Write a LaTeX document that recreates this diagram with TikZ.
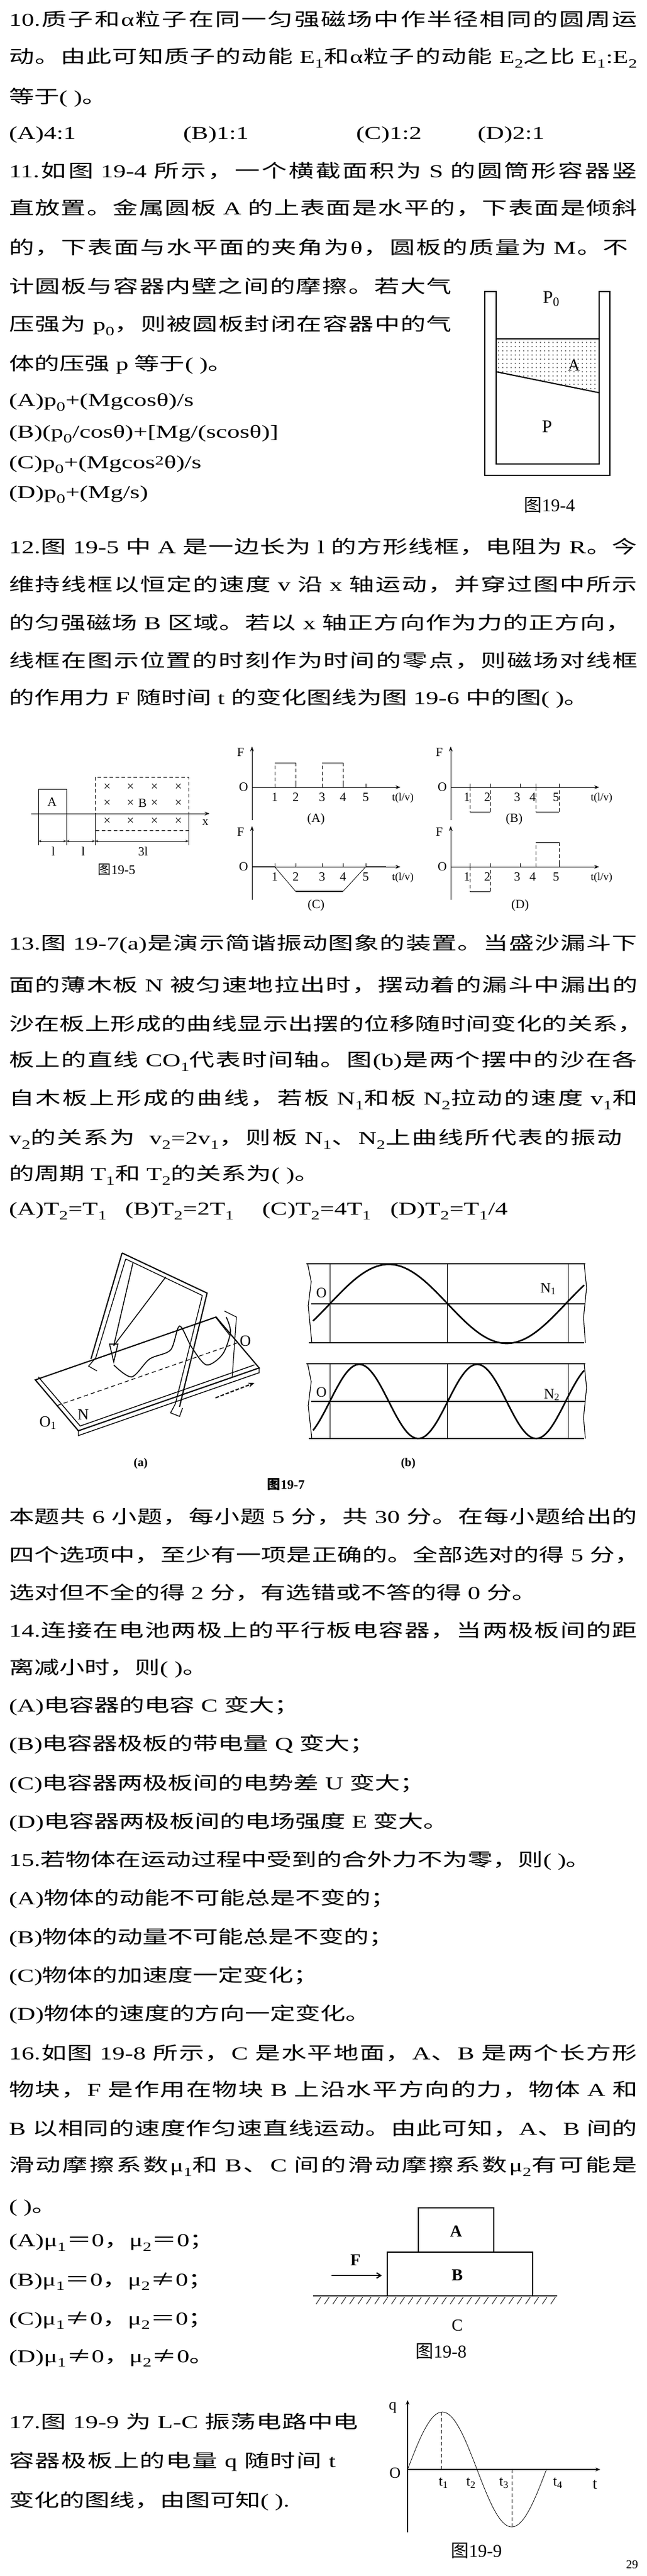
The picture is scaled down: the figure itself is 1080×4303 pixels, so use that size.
\documentclass[tikz,border=0pt]{standalone}
\usepackage{fontspec}
\usepackage{graphicx}
\setmainfont{Liberation Serif}
\newfontfamily\cjkf{Noto Sans CJK SC}
\usetikzlibrary{arrows.meta,patterns.meta}
\XeTeXinterchartokenstate=1
\newXeTeXintercharclass\cjkcls
\newcount\cc
\def\setrange#1#2{\cc=#1\relax\loop\XeTeXcharclass\cc=\cjkcls\advance\cc by 1\relax\ifnum\cc<#2\repeat}
\setrange{"3000}{"3040}
\setrange{"4E00}{"A000}
\setrange{"FF00}{"FFF0}
\XeTeXcharclass"2260=\cjkcls
\XeTeXinterchartoks 0 \cjkcls = {\hskip0pt plus 20pt\cjkf}
\XeTeXinterchartoks 4095 \cjkcls = {\cjkf}
\XeTeXinterchartoks \cjkcls 0 = {\rmfamily\hskip0pt plus 20pt}
\XeTeXinterchartoks \cjkcls 4095 = {\rmfamily}
\XeTeXinterchartoks \cjkcls \cjkcls = {\hskip0pt plus 20pt}
\newcommand\bs[1]{\textsubscript{#1}}
\newcommand\Ln[1]{\scalebox{1}[0.72]{\fontsize{42}{50}\selectfont #1}}
\newcommand\Fl[2]{\scalebox{1}[0.72]{\hbox to #1{\fontsize{42}{50}\selectfont\spaceskip=11pt plus 8pt #2}}}
\begin{document}
\begin{tikzpicture}[x=1pt,y=-1pt,
  txt/.style={anchor=west,inner sep=0pt,outer sep=0pt},
  ft/.style={inner sep=0pt,font=\fontsize{21}{23}\selectfont},
  capt/.style={inner sep=0pt,font=\fontsize{27}{29}\selectfont},
  ar/.style={-{Stealth[length=8pt,width=6pt]}},
  dsh/.style={dash pattern=on 6pt off 4pt},
  crv/.style={line width=2.6pt}]
\useasboundingbox (0,0) rectangle (1080,4303);
\fill[white] (0,0) rectangle (1080,4303);
% ---------- Q10
\node[txt] (l1) at (15,32) {\Fl{1050pt}{10.质子和α粒子在同一匀强磁场中作半径相同的圆周运}};
\node[txt] (l2) at (15,97) {\Fl{1050pt}{动。由此可知质子的动能 E\bs{1}和α粒子的动能 E\bs{2}之比 E\bs{1}:E\bs{2}}};
\node[txt] (l3) at (15,163) {\Ln{等于( )。}};
\node[txt] (o1) at (15,225) {\Ln{(A)4:1}};
\node[txt] (o2) at (306,225) {\Ln{(B)1:1}};
\node[txt] (o3) at (595,225) {\Ln{(C)1:2}};
\node[txt] (o4) at (798,225) {\Ln{(D)2:1}};
% ---------- Q11
\node[txt] (l5) at (15,285) {\Fl{1050pt}{11.如图 19-4 所示，一个横截面积为 S 的圆筒形容器竖}};
\node[txt] (l6) at (15,347) {\Fl{1050pt}{直放置。金属圆板 A 的上表面是水平的，下表面是倾斜}};
\node[txt] (l7) at (15,413) {\Fl{1035pt}{的，下表面与水平面的夹角为θ，圆板的质量为 M。不}};
\node[txt] (l8) at (15,478) {\Fl{740pt}{计圆板与容器内壁之间的摩擦。若大气}};
\node[txt] (l9) at (15,544) {\Fl{740pt}{压强为 p\bs{0}，则被圆板封闭在容器中的气}};
\node[txt] (l10) at (15,609) {\Ln{体的压强 p 等于( )。}};
\node[txt] (l11) at (15,672) {\Ln{(A)p\bs{0}+(Mgcosθ)/s}};
\node[txt] (l12) at (15,725) {\Ln{(B)(p\bs{0}/cosθ)+[Mg/(scosθ)]}};
\node[txt] (l13) at (15,776) {\Ln{(C)p\bs{0}+(Mgcos\textsuperscript{2}θ)/s}};
\node[txt] (l14) at (15,826) {\Ln{(D)p\bs{0}+(Mg/s)}};
% fig 19-4
\fill[pattern={Dots[distance=7pt,radius=0.9pt]}] (829,566) -- (1001,566) -- (1001,656) -- (829,621) -- cycle;
\draw[line width=2.2pt] (810,487) -- (810,794) -- (1019,794) -- (1019,487) -- (1001,487) -- (1001,775) -- (829,775) -- (829,487) -- cycle;
\draw[line width=2pt] (829,566) -- (1001,566);
\draw[line width=2pt] (829,621) -- (1001,656);
\node[ft,font=\fontsize{30}{32}\selectfont] (p0) at (921,499) {P\bs{0}};
\node[ft,font=\fontsize{28}{30}\selectfont] (pa) at (959,610) {A};
\node[ft,font=\fontsize{30}{32}\selectfont] (pp) at (914,713) {P};
\node[capt,font=\fontsize{30}{32}\selectfont] (c4) at (918,844) {图19-4};
% ---------- Q12
\node[txt] (m1) at (15,913) {\Fl{1050pt}{12.图 19-5 中 A 是一边长为 l 的方形线框，电阻为 R。今}};
\node[txt] (m2) at (15,976) {\Fl{1050pt}{维持线框以恒定的速度 v 沿 x 轴运动，并穿过图中所示}};
\node[txt] (m3) at (15,1040) {\Fl{1040pt}{的匀强磁场 B 区域。若以 x 轴正方向作为力的正方向，}};
\node[txt] (m4) at (15,1103) {\Fl{1050pt}{线框在图示位置的时刻作为时间的零点，则磁场对线框}};
\node[txt] (m5) at (15,1167) {\Ln{的作用力 F 随时间 t 的变化图线为图 19-6 中的图( )。}};
% fig 19-5
\draw[thick,ar] (52,1359) -- (350,1359);
\draw[thick] (64,1359) -- (64,1318) -- (111,1318) -- (111,1359);
\node[ft] (fa) at (87,1340) {A};
\draw[thick,dsh] (159,1298) rectangle (315,1387);
\foreach \xx in {179,218,258,298}{\foreach \yy in {1315,1342,1372}{\node[ft] (x\xx-\yy) at (\xx,\yy) {×};}}
\node[ft,fill=white,inner sep=1pt] (fb) at (238,1342) {B};
\node[ft] (fx) at (343,1374) {x};
\foreach \xx in {64,111,159,315}{\draw (\xx,1359) -- (\xx,1412);}
\draw[{Stealth[length=5pt]}-{Stealth[length=5pt]}] (64,1405) -- (111,1405);
\draw[{Stealth[length=5pt]}-{Stealth[length=5pt]}] (111,1405) -- (159,1405);
\draw[{Stealth[length=5pt]}-{Stealth[length=5pt]}] (159,1405) -- (315,1405);
\node[ft] (d1) at (89,1422) {l};
\node[ft] (d2) at (139,1422) {l};
\node[ft] (d3) at (239,1422) {3l};
\node[ft,font=\fontsize{22}{24}\selectfont] (c5) at (195,1453) {图19-5};
% fig 19-6 axes
\foreach \nm/\ox/\oy in {a/421/1315,b/753/1315,c/421/1448,d/753/1448}{
  \draw[thick,ar] (\ox,\oy+55) -- (\ox,\oy-68);
  \draw[thick,ar] (\ox,\oy) -- (\ox+248,\oy);
  \node[ft] (F\nm) at (\ox-19,\oy-58) {F};
  \node[ft] (O\nm) at (\ox-14,\oy) {O};
  \node[ft,font=\fontsize{18}{20}\selectfont] (t\nm) at (\ox+252,\oy+18) {t(l/v)};
}
\foreach \i/\xx in {1/459,2/494,3/538,4/573,5/611}{
  \draw (\xx,1315) -- (\xx,1309); \draw (\xx,1448) -- (\xx,1442);
  \node[ft] (na\i) at (\xx,1332) {\i};
  \node[ft] (nc\i) at (\xx,1465) {\i};}
\foreach \i/\xx in {1/785,2/819,3/869,4/895,5/934}{
  \draw (\xx,1315) -- (\xx,1309); \draw (\xx,1448) -- (\xx,1442);
  \node[ft] (nb\i) at (\xx-5,1332) {\i};
  \node[ft] (nd\i) at (\xx-5,1465) {\i};}
\node[ft] (la) at (528,1368) {(A)};
\node[ft] (lb) at (859,1368) {(B)};
\node[ft] (lc) at (528,1512) {(C)};
\node[ft] (ld) at (869,1512) {(D)};
% A pulses
\draw[dsh] (459,1315) -- (459,1274) (494,1274) -- (494,1315) (538,1315) -- (538,1274) (573,1274) -- (573,1315);
\draw[thick] (459,1274) -- (494,1274) (538,1274) -- (573,1274);
% B pulses
\draw[dsh] (785,1315) -- (785,1356) (819,1356) -- (819,1315) (895,1315) -- (895,1356) (934,1356) -- (934,1315);
\draw[thick] (785,1356) -- (819,1356) (895,1356) -- (934,1356);
% C
\draw[line width=2.5pt] (421,1448) -- (459,1448) (494,1489) -- (573,1489) (611,1448) -- (645,1448);
\draw[thick] (459,1448) -- (494,1489) (573,1489) -- (611,1448);
% D
\draw[dsh] (785,1448) -- (785,1489) (819,1489) -- (819,1448) (895,1448) -- (895,1407) (934,1407) -- (934,1448);
\draw[thick] (785,1489) -- (819,1489) (895,1407) -- (934,1407);
% ---------- Q13
\node[txt] (n1) at (15,1577) {\Fl{1050pt}{13.图 19-7(a)是演示简谐振动图象的装置。当盛沙漏斗下}};
\node[txt] (n2) at (15,1645) {\Fl{1050pt}{面的薄木板 N 被匀速地拉出时，摆动着的漏斗中漏出的}};
\node[txt] (n3) at (15,1710) {\Fl{1060pt}{沙在板上形成的曲线显示出摆的位移随时间变化的关系，}};
\node[txt] (n4) at (15,1773) {\Fl{1050pt}{板上的直线 CO\bs{1}代表时间轴。图(b)是两个摆中的沙在各}};
\node[txt] (n5) at (15,1837) {\Fl{1050pt}{自木板上形成的曲线，若板 N\bs{1}和板 N\bs{2}拉动的速度 v\bs{1}和}};
\node[txt] (n6) at (15,1903) {\Fl{1025pt}{v\bs{2}的关系为 \ v\bs{2}=2v\bs{1}，则板 N\bs{1}、N\bs{2}上曲线所代表的振动}};
\node[txt] (n7) at (15,1963) {\Ln{的周期 T\bs{1}和 T\bs{2}的关系为( )。}};
\node[txt] (q1) at (15,2023) {\Ln{(A)T\bs{2}=T\bs{1}}};
\node[txt] (q2) at (209,2023) {\Ln{(B)T\bs{2}=2T\bs{1}}};
\node[txt] (q3) at (438,2023) {\Ln{(C)T\bs{2}=4T\bs{1}}};
\node[txt] (q4) at (652,2023) {\Ln{(D)T\bs{2}=T\bs{1}/4}};
% fig 19-7 (b)
\foreach \yt/\yb/\ya in {2111/2243/2178,2278/2403/2341}{
  \draw[line width=1.6pt] (512,\yt) -- (978,\yt) (516,\yb) -- (976,\yb);
  \draw[line width=1.2pt] (514,\yt) -- (520,\yt+30) -- (515,\yt+70) -- (521,\yb);
  \draw[line width=1.2pt] (976,\yt) -- (980,\yt+40) -- (975,\yt+90) -- (978,\yb);
  \draw[line width=1.6pt] (520,\ya) -- (978,\ya);
  \foreach \xv in {551,747,949}{\draw (\xv,\yt) -- (\xv,\yb);}
}
\draw[crv] plot[domain=523:976,samples=90,smooth] (\x,{2178-66*sin((\x-551)/394*360)});
\draw[crv] plot[domain=523:976,samples=120,smooth] (\x,{2341-62*sin((\x-551)/197*360)});
\node[ft,font=\fontsize{24}{26}\selectfont] (ob1) at (537,2160) {O};
\node[ft,font=\fontsize{24}{26}\selectfont] (ob2) at (537,2326) {O};
\node[ft,font=\fontsize{24}{26}\selectfont] (N1) at (916,2153) {N\bs{1}};
\node[ft,font=\fontsize{24}{26}\selectfont] (N2) at (922,2330) {N\bs{2}};
% fig 19-7 (a) apparatus
\draw[line width=2pt] (59,2305) -- (131,2390) -- (433,2285) -- (361,2200) -- cycle;
\draw[line width=1.4pt] (64,2300) -- (134,2382) -- (425,2280);
\draw[line width=1.4pt] (131,2390) -- (131,2398) -- (433,2293) -- (433,2285);
\draw[line width=1.2pt,dash pattern=on 7pt off 5pt] (95,2348) -- (397,2243);
\draw[line width=2pt] (204,2093) -- (346,2160) -- (300,2350);
\draw[line width=2pt] (204,2093) -- (152,2270);
\draw[line width=1.3pt] (210,2103) -- (338,2164) -- (293,2345);
\draw[line width=1.3pt] (210,2103) -- (160,2268);
\draw[line width=1.5pt] (277,2133) -- (190,2248) (222,2110) -- (190,2248);
\draw[line width=1.5pt] (183,2245) -- (197,2245) -- (190,2275) -- cycle;
\draw[line width=1.3pt] (160,2268) -- (148,2282) -- (162,2290);
\draw[line width=1.3pt] (293,2345) -- (285,2360) -- (300,2366) -- (305,2352);
\draw[line width=1.6pt] plot[smooth] coordinates {(190,2280) (220,2300) (250,2270) (285,2255) (300,2215) (320,2250) (345,2280) (372,2262) (385,2225) (378,2200)};
\draw[line width=1.2pt] (360,2200) -- (385,2232) (375,2190) -- (395,2200) -- (388,2300);
\draw[line width=2pt,dash pattern=on 6pt off 3pt,-{Stealth[length=10pt,width=8pt]}] (360,2335) -- (425,2310);
\node[ft,font=\fontsize{26}{28}\selectfont] (oa) at (410,2240) {O};
\node[ft,font=\fontsize{26}{28}\selectfont] (o1a) at (80,2377) {O\bs{1}};
\node[ft,font=\fontsize{26}{28}\selectfont] (na) at (139,2363) {N};
\node[ft,font=\bfseries\fontsize{20}{22}\selectfont] (fa7) at (235,2445) {(a)};
\node[ft,font=\bfseries\fontsize{20}{22}\selectfont] (fb7) at (682,2445) {(b)};
\node[capt,font=\bfseries\fontsize{22}{24}\selectfont] (c7) at (478,2480) {图19-7};
% ---------- section
\node[txt] (s1) at (15,2533) {\Fl{1050pt}{本题共 6 小题，每小题 5 分，共 30 分。在每小题给出的}};
\node[txt] (s2) at (15,2597) {\Fl{1055pt}{四个选项中，至少有一项是正确的。全部选对的得 5 分，}};
\node[txt] (s3) at (15,2660) {\Ln{选对但不全的得 2 分，有选错或不答的得 0 分。}};
% Q14
\node[txt] (r1) at (15,2723) {\Fl{1050pt}{14.连接在电池两极上的平行板电容器，当两极板间的距}};
\node[txt] (r2) at (15,2787) {\Ln{离减小时，则( )。}};
\node[txt] (r3) at (15,2850) {\Ln{(A)电容器的电容 C 变大；}};
\node[txt] (r4) at (15,2914) {\Ln{(B)电容器极板的带电量 Q 变大；}};
\node[txt] (r5) at (15,2980) {\Ln{(C)电容器两极板间的电势差 U 变大；}};
\node[txt] (r6) at (15,3044) {\Ln{(D)电容器两极板间的电场强度 E 变大。}};
% Q15
\node[txt] (u1) at (15,3108) {\Ln{15.若物体在运动过程中受到的合外力不为零，则( )。}};
\node[txt] (u2) at (15,3172) {\Ln{(A)物体的动能不可能总是不变的；}};
\node[txt] (u3) at (15,3237) {\Ln{(B)物体的动量不可能总是不变的；}};
\node[txt] (u4) at (15,3301) {\Ln{(C)物体的加速度一定变化；}};
\node[txt] (u5) at (15,3365) {\Ln{(D)物体的速度的方向一定变化。}};
% Q16
\node[txt] (v1) at (15,3429) {\Fl{1050pt}{16.如图 19-8 所示，C 是水平地面，A、B 是两个长方形}};
\node[txt] (v2) at (15,3490) {\Fl{1050pt}{物块，F 是作用在物块 B 上沿水平方向的力，物体 A 和}};
\node[txt] (v3) at (15,3555) {\Fl{1050pt}{B 以相同的速度作匀速直线运动。由此可知，A、B 间的}};
\node[txt] (v4) at (15,3619) {\Fl{1050pt}{滑动摩擦系数μ\bs{1}和 B、C 间的滑动摩擦系数μ\bs{2}有可能是}};
\node[txt] (v5) at (15,3688) {\Ln{( )。}};
\node[txt] (v6) at (15,3746) {\Ln{(A)μ\bs{1}＝0，μ\bs{2}＝0；}};
\node[txt] (v7) at (15,3811) {\Ln{(B)μ\bs{1}＝0，μ\bs{2}≠0；}};
\node[txt] (v8) at (15,3876) {\Ln{(C)μ\bs{1}≠0，μ\bs{2}＝0；}};
\node[txt] (v9) at (15,3939) {\Ln{(D)μ\bs{1}≠0，μ\bs{2}≠0。}};
% fig 19-8
\draw[line width=2pt] (699,3762) -- (699,3688) -- (825,3688) -- (825,3762);
\draw[line width=2pt] (647,3835) -- (647,3762) -- (890,3762) -- (890,3835);
\draw[line width=2pt] (523,3835) -- (931,3835);
\foreach \k in {0,...,28}{\draw[thick] (536+\k*14,3837) -- (528+\k*14,3849);}
\draw[line width=2pt,-{Straight Barb[length=7pt,width=9pt]}] (554,3801) -- (638,3801);
\node[ft,font=\bfseries\fontsize{28}{30}\selectfont] (fF) at (594,3775) {F};
\node[ft,font=\bfseries\fontsize{28}{30}\selectfont] (fA) at (762,3727) {A};
\node[ft,font=\bfseries\fontsize{28}{30}\selectfont] (fB) at (764,3800) {B};
\node[ft,font=\fontsize{28}{30}\selectfont] (fC) at (764,3884) {C};
\node[capt,font=\fontsize{30}{32}\selectfont] (c8) at (737,3928) {图19-8};
% Q17
\node[txt] (w1) at (15,4045) {\Fl{584pt}{17.图 19-9 为 L-C 振荡电路中电}};
\node[txt] (w2) at (15,4112) {\Fl{546pt}{容器极板上的电量 q 随时间 t}};
\node[txt] (w3) at (15,4178) {\Ln{变化的图线，由图可知( ).}};
% fig 19-9
\draw[line width=1.5pt,ar] (681,4230) -- (681,4009);
\draw[line width=2pt,ar] (681,4125) -- (1003,4125);
\draw[thick] plot[domain=681:913,samples=80,smooth] (\x,{4125-96*sin((\x-681)/232*360)});
\draw[dsh,thick] (737,4029) -- (737,4125);
\draw[dsh,thick] (855,4125) -- (855,4221);
\node[ft,font=\fontsize{26}{28}\selectfont] (gq) at (656,4022) {q};
\node[ft,font=\fontsize{26}{28}\selectfont] (gO) at (660,4131) {O};
\node[ft,font=\fontsize{24}{26}\selectfont] (g1) at (741,4148) {t\bs{1}};
\node[ft,font=\fontsize{24}{26}\selectfont] (g2) at (787,4148) {t\bs{2}};
\node[ft,font=\fontsize{24}{26}\selectfont] (g3) at (842,4148) {t\bs{3}};
\node[ft,font=\fontsize{24}{26}\selectfont] (g4) at (932,4148) {t\bs{4}};
\node[ft,font=\fontsize{26}{28}\selectfont] (gt) at (994,4150) {t};
\node[capt,font=\fontsize{30}{32}\selectfont] (c9) at (796,4261) {图19-9};
\node[ft,font=\fontsize{20}{22}\selectfont] (pg) at (1056,4284) {29};
\end{tikzpicture}
\end{document}
